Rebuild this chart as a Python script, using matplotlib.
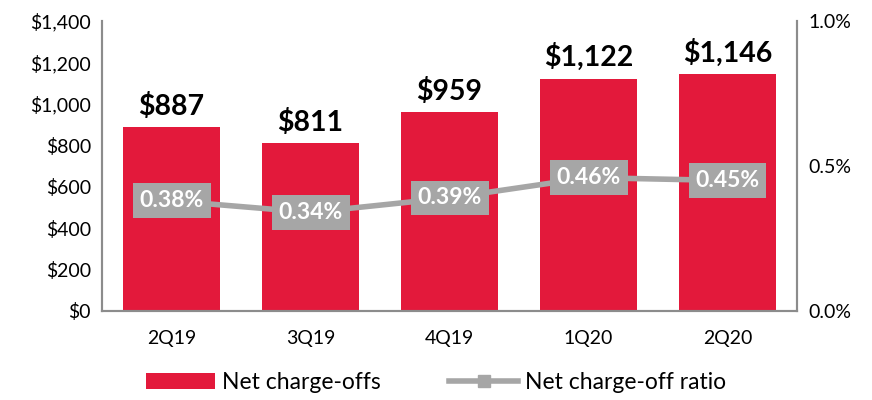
import matplotlib.pyplot as plt
from matplotlib.ticker import FuncFormatter

plt.rcParams['font.family'] = ['Lato', 'DejaVu Sans']

quarters = ['2Q19', '3Q19', '4Q19', '1Q20', '2Q20']
charge_offs = [887, 811, 959, 1122, 1146]
ratio = [0.38, 0.34, 0.39, 0.46, 0.45]

red = '#E3193B'
grey = '#A6A6A6'
spine = '#8C8C8C'

fig = plt.figure(figsize=(8.72, 4), dpi=100)
ax = fig.add_axes([0.117, 0.2225, 0.797, 0.725])
ax2 = ax.twinx()

x = range(len(quarters))
bars = ax.bar(x, charge_offs, width=0.7, color=red, label='Net charge-offs', zorder=2)
for xi, v in zip(x, charge_offs):
    ax.text(xi, v + 35, f'${v:,}', ha='center', va='bottom', fontsize=20.5, fontweight='bold')

ax.set_ylim(0, 1400)
ax.set_yticks(range(0, 1401, 200))
ax.yaxis.set_major_formatter(FuncFormatter(lambda v, p: f'${v:,.0f}'))
ax.set_xlim(-0.5, len(quarters) - 0.5)
ax.set_xticks(list(x))
ax.set_xticklabels(quarters)

line, = ax2.plot(x, ratio, color=grey, lw=4, marker='s', markersize=8,
                 label='Net charge-off ratio', zorder=3)
for xi, r in zip(x, ratio):
    ax2.text(xi, r, f'{r:.2f}%', ha='center', va='center', color='white',
             fontsize=16.5, fontweight='bold',
             bbox=dict(boxstyle='square,pad=0.3', fc=grey, ec='none'))
ax2.set_ylim(0, 1.0)
ax2.set_yticks([0, 0.5, 1.0])
ax2.yaxis.set_major_formatter(FuncFormatter(lambda v, p: f'{v:.1f}%'))

for a in (ax, ax2):
    a.spines['top'].set_visible(False)
    for s in ('left', 'right', 'bottom'):
        a.spines[s].set_color(spine)
        a.spines[s].set_linewidth(1.5)
    a.tick_params(length=0, labelsize=14, pad=8)
ax.tick_params(axis='x', pad=14)

fig.legend([bars, line], ['Net charge-offs', 'Net charge-off ratio'],
           loc='lower center', ncol=2, frameon=False, fontsize=16.5,
           bbox_to_anchor=(0.5, -0.035), handlelength=3, columnspacing=3,
           handletextpad=0.3)

fig.savefig('out.png', dpi=100)
